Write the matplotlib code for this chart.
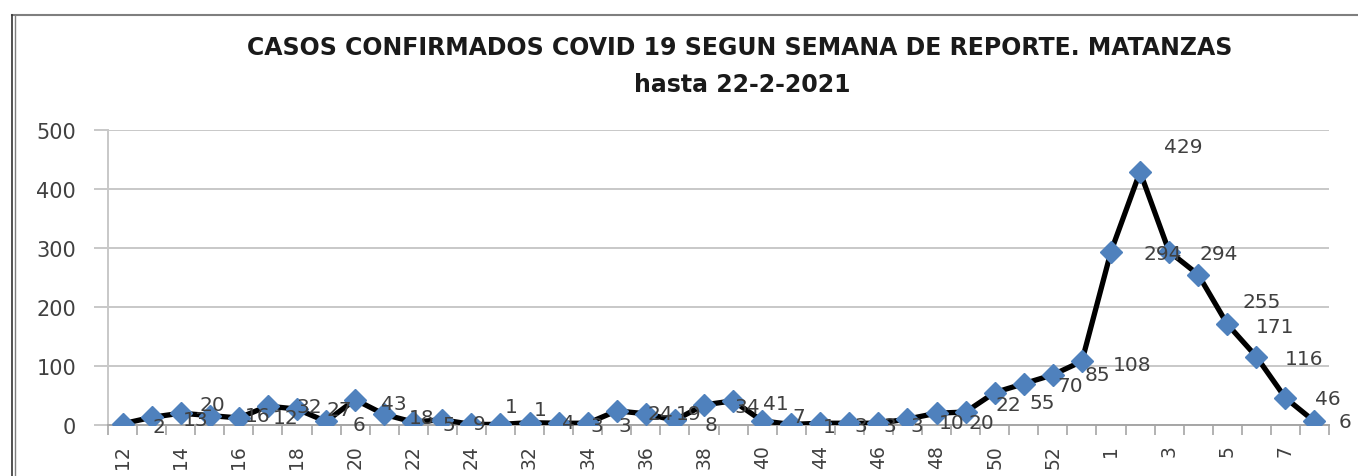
import matplotlib
matplotlib.use("Agg")
import matplotlib.pyplot as plt
from matplotlib.lines import Line2D

# ---- data ----
weeks = ["12", "13", "14", "15", "16", "17", "18", "19", "20", "21", "22", "23", "24", "31",
         "32", "33", "34", "35", "36", "37", "38", "39", "40", "43", "44", "45", "46", "47",
         "48", "49", "50", "51", "52", "53", "1", "2", "3", "4", "5", "6", "7", "8"]
cases = [2, 13, 20, 16, 12, 32, 27, 6, 43, 18, 5, 9, 1, 1,
         4, 3, 3, 24, 19, 8, 34, 41, 7, 1, 3, 3, 3, 10,
         20, 22, 55, 70, 85, 108, 294, 429, 294, 255, 171, 116, 46, 6]
title_line1 = "CASOS CONFIRMADOS COVID 19 SEGUN SEMANA DE REPORTE. MATANZAS"
title_line2 = "hasta 22-2-2021"
y_ticks = [0, 100, 200, 300, 400, 500]

# label offsets in pixels (dx, dy) relative to each point (style only)
label_dx = [30, 31, 19, 35, 34, 29, 30, 27, 26, 25, 29, 30, 33, 33,
            32, 32, 31, 31, 30, 30, 30, 30, 30, 32, 34, 34, 32, 31,
            32, 30, 35, 34, 32, 31, 33, 24, 30, 44, 29, 28, 30, 24]
label_dy = [-3, -2, 9, 0, 0, 0, 0, -3, -4, -3, -2, -4, 18, 15,
            0, -2, -2, -3, 0, -4, -2, -3, 4, -2, -2, -2, -2, -3,
            -9, 8, -10, -2, 0, -3, -2, 25, -2, -27, -2, -2, -1, 0]

W, H = 1358, 477
fig = plt.figure(figsize=(W / 100, H / 100), dpi=100)
fig.patch.set_facecolor("white")

ax = fig.add_axes([108 / W, (H - 426) / H, 1221 / W, 295 / H])
x = list(range(len(cases)))

ax.plot(x, cases, color="black", lw=3.8, zorder=3, solid_joinstyle="miter")
ax.plot(x, cases, linestyle="none", marker="D", ms=11, mfc="#4F81BD",
        mec="#4F81BD", zorder=4)

for i, v in enumerate(cases):
    ax.annotate(str(v), (i, v), xytext=(label_dx[i], label_dy[i]),
                textcoords="offset pixels", ha="left", va="center",
                fontsize=14.5, color="#404040", zorder=5)

ax.set_xlim(-0.5, len(cases) - 0.5)
ax.set_ylim(0, 500)
ax.set_yticks(y_ticks)
ax.set_yticklabels([str(t) for t in y_ticks])

ax.set_xticks(x[::2])
ax.set_xticklabels(weeks[::2], rotation=90)
ax.set_xticks([i - 0.5 for i in range(len(cases) + 1)], minor=True)
ax.tick_params(axis="x", which="major", length=0, pad=14, labelsize=13.5,
               labelcolor="#404040")
ax.tick_params(axis="x", which="minor", length=7, width=1.2, color="#A6A6A6",
               direction="out")
ax.tick_params(axis="y", length=10, width=1.2, color="#BFBFBF", pad=13,
               labelsize=15, labelcolor="#404040")

ax.grid(axis="y", color="#C8C8C8", lw=1.4)
ax.set_axisbelow(True)
for s in ["top", "right"]:
    ax.spines[s].set_visible(False)
ax.spines["left"].set_color("#C8C8C8")
ax.spines["left"].set_linewidth(1.4)
ax.spines["bottom"].set_color("#A6A6A6")
ax.spines["bottom"].set_linewidth(1.4)

fig.text(740 / W, 1 - 48 / H, title_line1, ha="center", va="center",
         fontsize=17, fontweight="bold", color="#1a1a1a")
fig.text(742 / W, 1 - 85 / H, title_line2, ha="center", va="center",
         fontsize=17, fontweight="bold", color="#1a1a1a")

# outer chart-area border (top and left edges visible)
fig.add_artist(Line2D([12 / W, 1.0], [1 - 16 / H, 1 - 16 / H], color="#7f7f7f", lw=1.5))
fig.add_artist(Line2D([12 / W, 12 / W], [0, 1 - 16 / H], color="#333333", lw=1.2))
fig.add_artist(Line2D([15 / W, 15 / W], [0, 1 - 16 / H], color="#7f7f7f", lw=1.0))

fig.savefig("out.png", dpi=100)
